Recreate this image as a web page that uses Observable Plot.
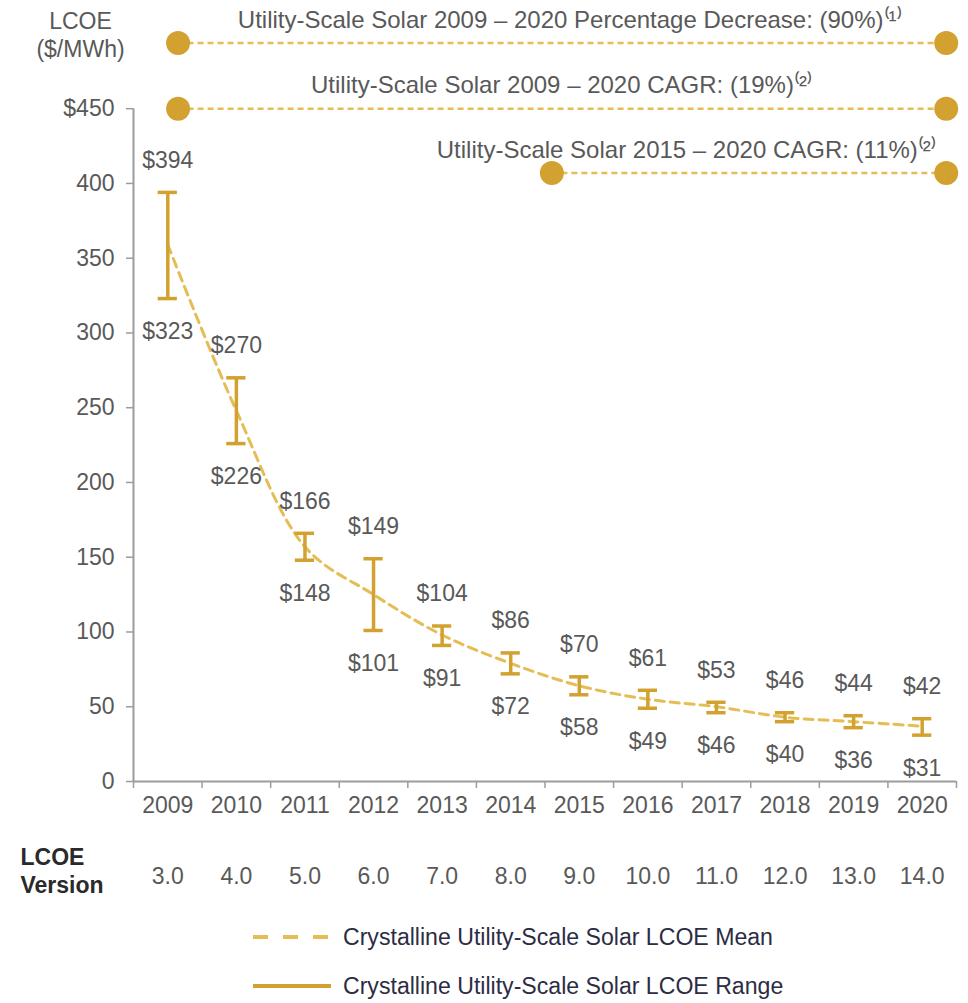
<!DOCTYPE html>
<html>
<head>
<meta charset="utf-8">
<script src="https://cdn.jsdelivr.net/npm/d3@7"></script>
<script src="https://cdn.jsdelivr.net/npm/@observablehq/plot@0.6"></script>
<style>
  html, body { margin: 0; padding: 0; background: #fff; }
  #wrap { position: relative; width: 968px; height: 1003px; font-family: "Liberation Sans", Arial, sans-serif; }
  .leg { position: absolute; left: 253px; display: flex; align-items: center; font-size: 23.1px; color: #2c2c44; }
  .leg svg { margin-right: 12px; }
</style>
</head>
<body>
<div id="wrap"></div>
<script>
// ---- data ----
const years = [2009, 2010, 2011, 2012, 2013, 2014, 2015, 2016, 2017, 2018, 2019, 2020];
const highs = [394, 270, 166, 149, 104, 86, 70, 61, 53, 46, 44, 42];
const lows  = [323, 226, 148, 101, 91, 72, 58, 49, 46, 40, 36, 31];
const means = [359, 248, 157, 125, 98, 79, 64, 55, 50, 43, 40, 37];
const versions = ["3.0", "4.0", "5.0", "6.0", "7.0", "8.0", "9.0", "10.0", "11.0", "12.0", "13.0", "14.0"];
const yTicks = [0, 50, 100, 150, 200, 250, 300, 350, 400, 450];
const annLabels = [
  "Utility-Scale Solar 2009 – 2020 Percentage Decrease: (90%)⁽¹⁾",
  "Utility-Scale Solar 2009 – 2020 CAGR: (19%)⁽²⁾",
  "Utility-Scale Solar 2015 – 2020 CAGR: (11%)⁽²⁾"
];
const annFrom = [2009.15, 2009.15, 2014.6];
const annTo = [2020.35, 2020.35, 2020.35];
const annLevel = [494, 450, 407];
const annTextX = [2014.86, 2014.74, 2016.56];
const legendLabels = ["Crystalline Utility-Scale Solar LCOE Mean", "Crystalline Utility-Scale Solar LCOE Range"];

// ---- build tables ----
const data = years.map((year, i) => ({year, high: highs[i], low: lows[i], mean: means[i], version: versions[i]}));
const ann = annLabels.map((label, i) => ({label, from: annFrom[i], to: annTo[i], level: annLevel[i], tx: annTextX[i]}));
const annDots = ann.flatMap(a => [{x: a.from, y: a.level}, {x: a.to, y: a.level}]);
const separators = d3.range(years[0] - 0.5, years[years.length - 1] + 1, 1);

const GOLD = "#D3A12F";
const GOLD_LIGHT = "#E4BD55";
const TEXT = "#595959";
const AXIS = "#9c9c9c";
const FS = 23;

const chart = Plot.plot({
  width: 968,
  height: 900,
  marginLeft: 133,
  marginRight: 12,
  marginTop: 11,
  marginBottom: 119,
  x: {domain: [2008.5, 2020.5], axis: null},
  y: {domain: [0, 515], axis: null},
  style: {fontFamily: "'Liberation Sans', Arial, sans-serif", fontSize: FS + "px", color: TEXT, background: "white", overflow: "visible"},
  marks: [
    // y axis
    Plot.axisY(yTicks, {anchor: "left", tickSize: 7, tickPadding: 12, stroke: AXIS, strokeWidth: 1.5, fill: TEXT, fontSize: FS,
      tickFormat: d => d === 450 ? "$450" : String(d)}),
    Plot.ruleX([2008.5], {y1: 0, y2: 450, stroke: AXIS, strokeWidth: 2}),
    Plot.ruleY([0], {x1: 2008.5, x2: 2020.5, stroke: AXIS, strokeWidth: 2}),
    // x separators ticks
    Plot.axisX(separators, {anchor: "bottom", tickSize: 7, stroke: AXIS, strokeWidth: 1.5, tickFormat: () => ""}),
    // year labels
    Plot.axisX(years, {anchor: "bottom", tickSize: 0, tickPadding: 15, fill: TEXT, fontSize: FS, tickFormat: d => String(d)}),
    // version labels
    Plot.axisX(years, {anchor: "bottom", tickSize: 0, tickPadding: 86, fill: TEXT, fontSize: FS,
      tickFormat: d => versions[years.indexOf(d)]}),
    // axis titles
    Plot.text(["LCOE\n($/MWh)"], {frameAnchor: "top-left", dx: -53, dy: -2, textAnchor: "middle", lineAnchor: "top", lineHeight: 1.22, fill: TEXT, fontSize: FS}),
    Plot.text(["LCOE\nVersion"], {frameAnchor: "bottom-left", dx: -113, dy: 64, textAnchor: "start", lineAnchor: "top", lineHeight: 1.22, fill: "#2a2a2a", fontSize: FS, fontWeight: "bold"}),
    // annotations
    Plot.ruleY(ann, {y: "level", x1: "from", x2: "to", stroke: GOLD_LIGHT, strokeWidth: 2.5, strokeDasharray: "6,4"}),
    Plot.dot(annDots, {x: "x", y: "y", r: 12, fill: GOLD, stroke: "none"}),
    Plot.text(ann, {x: "tx", y: "level", text: "label", dy: -23, fill: TEXT, fontSize: 24}),
    // mean line
    Plot.line(data, {x: "year", y: "mean", stroke: GOLD_LIGHT, strokeWidth: 3, strokeDasharray: "9,6", curve: "catmull-rom"}),
    // range bars
    Plot.ruleX(data, {x: "year", y1: "low", y2: "high", stroke: GOLD, strokeWidth: 3.5}),
    Plot.ruleY(data, {y: "high", x1: d => d.year - 0.14, x2: d => d.year + 0.14, stroke: GOLD, strokeWidth: 3.5}),
    Plot.ruleY(data, {y: "low", x1: d => d.year - 0.14, x2: d => d.year + 0.14, stroke: GOLD, strokeWidth: 3.5}),
    // value labels
    Plot.text(data, {x: "year", y: "high", text: d => "$" + d.high, dy: -32, fill: TEXT, fontSize: FS}),
    Plot.text(data, {x: "year", y: "low", text: d => "$" + d.low, dy: 33, fill: TEXT, fontSize: FS})
  ]
});

const wrap = document.getElementById("wrap");
wrap.appendChild(chart);

// legend
const legendTops = [937, 986];
legendLabels.forEach((label, i) => {
  const row = document.createElement("div");
  row.className = "leg";
  row.style.top = (legendTops[i] - 15) + "px";
  row.style.height = "30px";
  const dash = i === 0 ? `stroke-dasharray="15,15"` : "";
  const col = i === 0 ? GOLD_LIGHT : GOLD;
  row.innerHTML = `<svg width="78" height="10"><line x1="0" y1="5" x2="78" y2="5" stroke="${col}" stroke-width="4" ${dash}/></svg><span>${label}</span>`;
  wrap.appendChild(row);
});
</script>
</body>
</html>
